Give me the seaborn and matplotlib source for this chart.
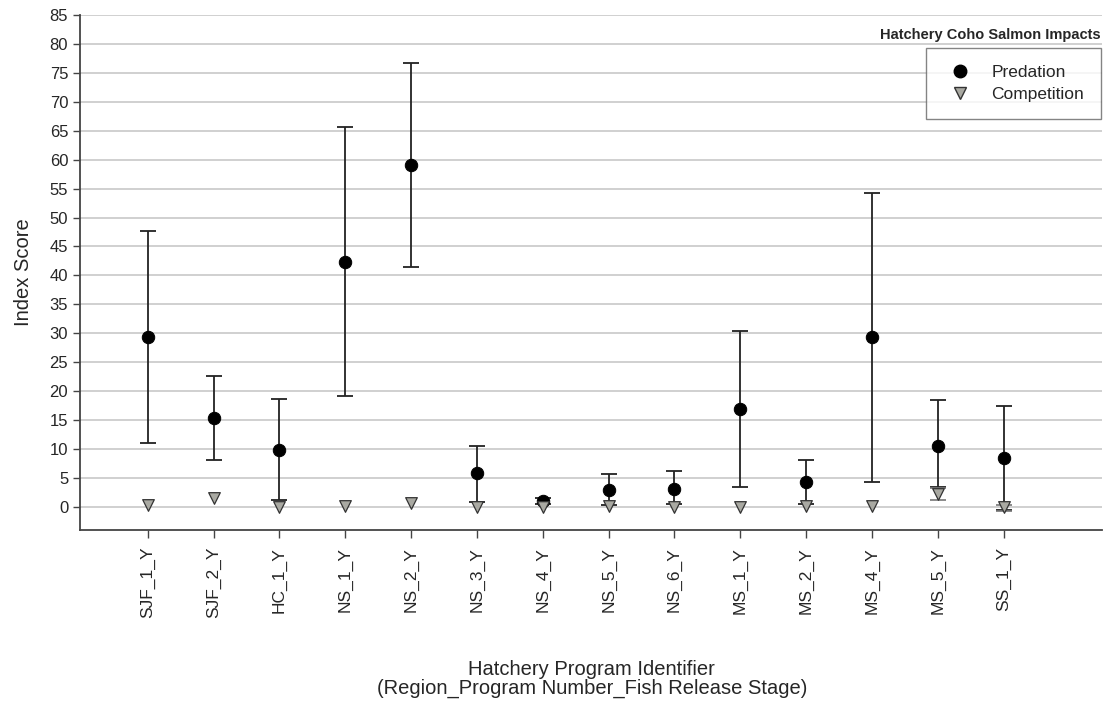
import numpy as np
import pandas as pd
import seaborn as sns
import matplotlib
matplotlib.use("Agg")
import matplotlib.pyplot as plt
from matplotlib.lines import Line2D

# chart data
programs = ["SJF_1_Y", "SJF_2_Y", "HC_1_Y", "NS_1_Y", "NS_2_Y", "NS_3_Y", "NS_4_Y",
            "NS_5_Y", "NS_6_Y", "MS_1_Y", "MS_2_Y", "MS_4_Y", "MS_5_Y", "SS_1_Y"]
predation = [29.3, 15.4, 9.9, 42.4, 59.1, 5.8, 1.0, 3.0, 3.2, 16.9, 4.4, 29.3, 10.6, 8.5]
pred_low = [11.0, 8.2, 1.2, 19.2, 41.4, 0.8, 0.5, 0.3, 0.5, 3.4, 0.5, 4.4, 3.5, -0.5]
pred_high = [47.7, 22.7, 18.6, 65.6, 76.6, 10.6, 1.5, 5.7, 6.2, 30.4, 8.1, 54.3, 18.5, 17.5]
competition = [0.3, 1.5, 0.0, 0.2, 0.7, 0.0, 0.0, 0.2, 0.0, 0.0, 0.1, 0.1, 2.3, 0.0]
comp_low = [0.3, 1.5, 0.0, 0.2, 0.7, 0.0, 0.0, 0.2, 0.0, 0.0, 0.1, 0.1, 1.2, -0.6]
comp_high = [0.3, 1.5, 0.0, 0.2, 0.7, 0.0, 0.0, 0.2, 0.0, 0.0, 0.1, 0.1, 3.3, 0.4]

sns.set_style("white")
plt.rcParams['font.family'] = ['Liberation Sans', 'DejaVu Sans']

df = pd.DataFrame({"program": programs, "Predation": predation, "Competition": competition,
                   "c_low": comp_low, "c_high": comp_high})
df["x"] = np.arange(len(programs))

fig = plt.figure(figsize=(11.04, 7.06), dpi=100)
ax = fig.add_axes([0.0725, 0.249, 0.926, 0.73])

# error bars
ax.errorbar(df["x"], df["Predation"],
            yerr=[df["Predation"] - np.array(pred_low), np.array(pred_high) - df["Predation"]],
            fmt="none", ecolor="#222222", elinewidth=1.3, capsize=6, capthick=1.3, zorder=2)
ce = df[(df["c_high"] - df["c_low"]) > 0]
ax.errorbar(ce["x"], ce["Competition"],
            yerr=[ce["Competition"] - ce["c_low"], ce["c_high"] - ce["Competition"]],
            fmt="none", ecolor="#777777", elinewidth=1.2, capsize=6, capthick=1.2, zorder=2)

sns.scatterplot(data=df, x="x", y="Predation", marker="o", s=80, color="black",
                edgecolor="black", ax=ax, zorder=3)
sns.scatterplot(data=df, x="x", y="Competition", marker="v", s=70, color="#a9a9a2",
                edgecolor="#333333", linewidth=0.9, ax=ax, zorder=4)

ax.set_xlim(-1.03, 14.5)
ax.set_ylim(-4, 85)
ax.set_yticks(range(0, 90, 5))
ax.set_xticks(df["x"])
ax.set_xticklabels(programs, rotation=90, fontsize=12.5)
ax.tick_params(axis="y", labelsize=12, length=5, width=1, color="#444444", direction="out", left=True)
ax.tick_params(axis="x", length=6, width=1, color="#444444", direction="out", bottom=True, pad=6)
ax.yaxis.grid(True, color="#c8c8c8", linewidth=1.2)
ax.set_axisbelow(True)
for side in ["top", "right"]:
    ax.spines[side].set_visible(False)
for side in ["left", "bottom"]:
    ax.spines[side].set_color("#444444")
    ax.spines[side].set_linewidth(1.3)

ax.set_ylabel("Index Score", fontsize=14.5, labelpad=12)
ax.set_xlabel("")
fig.text(0.536, 0.038, "Hatchery Program Identifier\n(Region_Program Number_Fish Release Stage)",
         ha="center", va="center", fontsize=14.5, linespacing=1.0)

handles = [Line2D([], [], marker="o", linestyle="none", color="black", markersize=9),
           Line2D([], [], marker="v", linestyle="none", markerfacecolor="#a9a9a2",
                  markeredgecolor="#333333", markersize=8.5)]
leg = ax.legend(handles, ["Predation", "Competition"], loc="upper right",
                bbox_to_anchor=(0.9985, 0.935), fontsize=12.5, frameon=True,
                fancybox=False, edgecolor="#666666", borderpad=0.95, handletextpad=0.8,
                borderaxespad=0, labelspacing=0.4)
leg.get_frame().set_linewidth(1.0)
fig.text(0.997, 0.951, "Hatchery Coho Salmon Impacts", ha="right", va="center",
         fontsize=10.5, fontweight="bold")

fig.savefig("out.png", dpi=100)
